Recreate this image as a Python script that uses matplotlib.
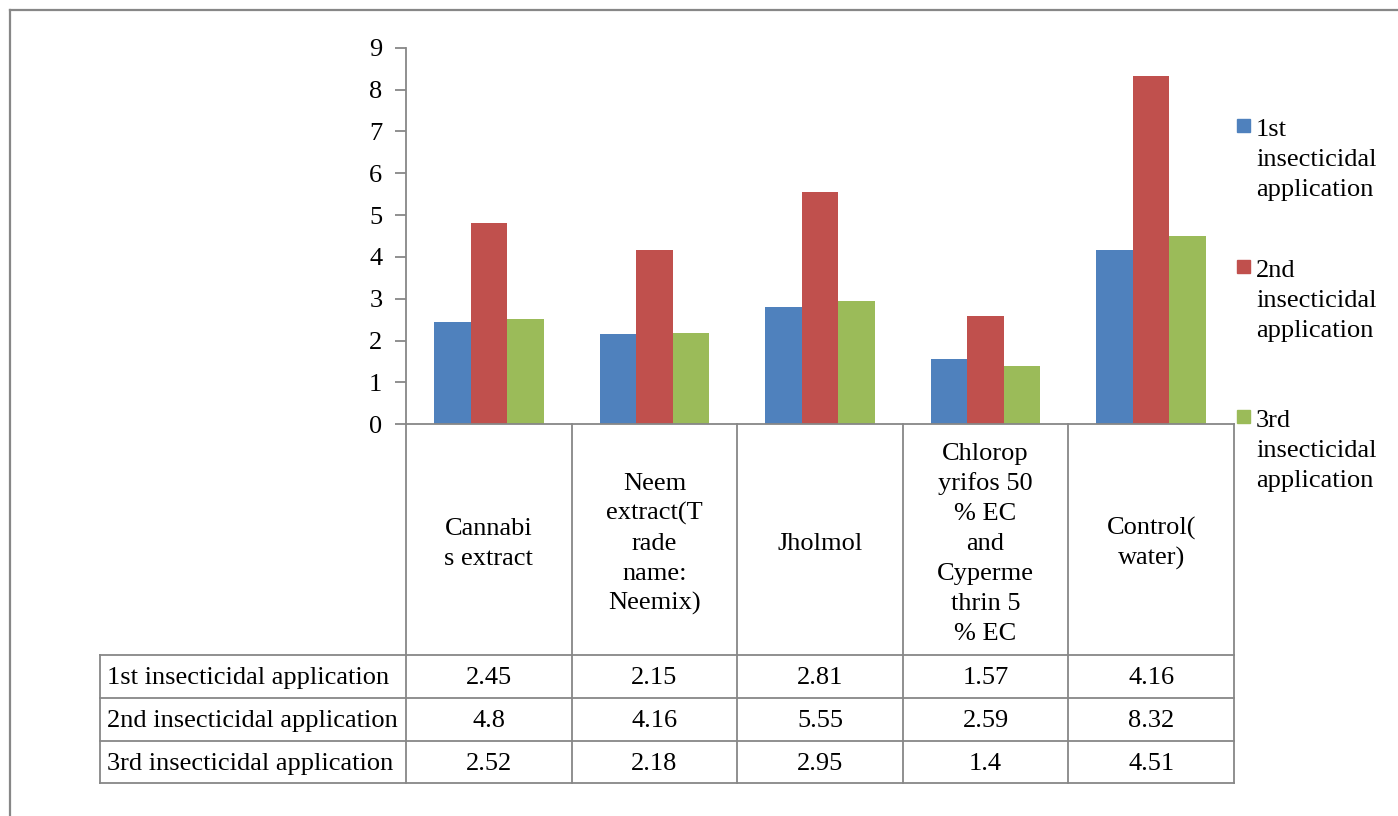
import numpy as np
import matplotlib
matplotlib.use('Agg')
import matplotlib.pyplot as plt
from matplotlib import transforms
from matplotlib.patches import Rectangle

plt.rcParams['font.family'] = ['Liberation Serif', 'DejaVu Serif']

# data
categories = ['Cannabi\ns extract',
              'Neem\nextract(T\nrade\nname:\nNeemix)',
              'Jholmol',
              'Chlorop\nyrifos 50\n% EC\nand\nCyperme\nthrin 5\n% EC',
              'Control(\nwater)']
series_names = ['1st insecticidal application',
                '2nd insecticidal application',
                '3rd insecticidal application']
first_app = [2.45, 2.15, 2.81, 1.57, 4.16]
second_app = [4.8, 4.16, 5.55, 2.59, 8.32]
third_app = [2.52, 2.18, 2.95, 1.4, 4.51]
series_values = [first_app, second_app, third_app]
colors = ['#4F81BD', '#C0504D', '#9BBB59']
yticks = list(range(0, 10))

W, H = 1398, 816
fig = plt.figure(figsize=(W / 100, H / 100), dpi=100)
grey = '#878787'
fs = 19
line_h = 30  # pixel step between text lines

# main bar axes
x_left, x_right, y_top, y_bot = 406, 1234, 47.7, 424.3
ax = fig.add_axes([x_left / W, 1 - y_bot / H, (x_right - x_left) / W, (y_bot - y_top) / H])
x = np.arange(len(categories))
bw = 0.221
for k, (vals, c) in enumerate(zip(series_values, colors)):
    ax.bar(x + (k - 1) * bw, vals, width=bw, color=c, edgecolor='none', zorder=2)

ax.set_xlim(-0.5, len(categories) - 0.5)
ax.set_ylim(0, 9)
ax.set_yticks(yticks)
ax.set_yticklabels([str(t) for t in yticks])
ax.set_xticks([])
for s in ['top', 'right']:
    ax.spines[s].set_visible(False)
for s in ['left', 'bottom']:
    ax.spines[s].set_color(grey)
    ax.spines[s].set_linewidth(1.3)
ax.tick_params(axis='y', length=8, width=1.3, color=grey, pad=9, labelsize=fs)

# overlay in pixel coordinates for table, legend, frame
ov = fig.add_axes([0, 0, 1, 1])
ov.set_xlim(0, W)
ov.set_ylim(H, 0)
ov.axis('off')
ov.patch.set_visible(False)
blend = transforms.blended_transform_factory(ax.transData, ov.transData)


def lines_at(xp, first_base, text, ha, transform):
    for j, ln in enumerate(text.split('\n')):
        ov.text(xp, first_base + j * line_h, ln, ha=ha, va='baseline',
                fontsize=fs, transform=transform)


# outer frame
ov.plot([10, 10], [H, 9.5], color=grey, lw=1.6)
ov.plot([10, W], [9.5, 9.5], color=grey, lw=1.6)

# table
row_lines = [655, 698, 741, 783]
tbl_left = 100
for b in np.arange(len(categories) + 1) - 0.5:
    ov.plot([b, b], [y_bot, row_lines[-1]], color=grey, lw=1.3, transform=blend, clip_on=False)
for yl in row_lines:
    ov.plot([tbl_left, x_right], [yl, yl], color=grey, lw=1.3)
ov.plot([tbl_left, tbl_left], [row_lines[0], row_lines[-1]], color=grey, lw=1.3)

for i, cat in enumerate(categories):
    n = cat.count('\n') + 1
    lines_at(i, 550 - (n - 1) * line_h / 2, cat, 'center', blend)

for r, (name, vals) in enumerate(zip(series_names, series_values)):
    base = row_lines[r] + 29
    ov.text(107, base, name, ha='left', va='baseline', fontsize=fs)
    for i, v in enumerate(vals):
        ov.text(i, base, f'{v:g}', transform=blend, ha='center', va='baseline', fontsize=fs)

# legend
leg_base = [136, 277, 427]
for name, c, yb in zip(series_names, colors, leg_base):
    ov.add_patch(Rectangle((1237, yb - 17), 13, 13, color=c))
    lines_at(1256, yb, name.replace(' ', '\n'), 'left', ov.transData)

fig.savefig('out.png', dpi=100)
